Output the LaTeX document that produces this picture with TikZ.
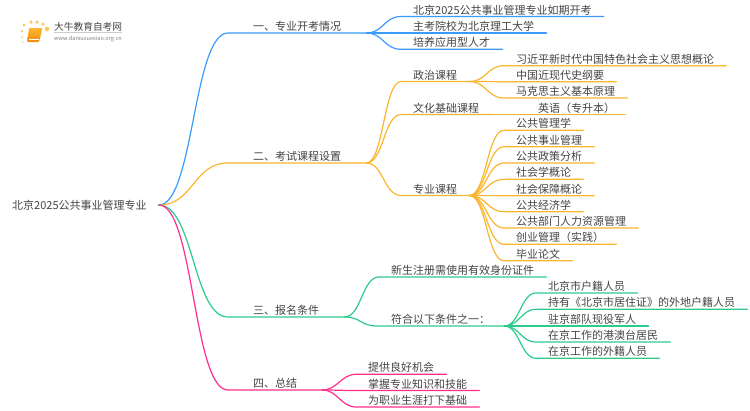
\documentclass[tikz,border=0pt]{standalone}
\usepackage{fontspec}
\setmainfont{Noto Sans CJK SC}
\usepackage{tikz}
\usetikzlibrary{positioning}

\definecolor{bluebr}{HTML}{3A9BFC}
\definecolor{orangebr}{HTML}{FBB52E}
\definecolor{greenbr}{HTML}{2CCB8C}
\definecolor{pinkbr}{HTML}{FF2E8E}
\definecolor{textcol}{HTML}{444444}
\definecolor{bookcol}{HTML}{F08A10}
\definecolor{booktop}{HTML}{FDB732}
\definecolor{dotcol}{HTML}{FBC65A}

\tikzset{
    label text/.style={font=\fontsize{11}{13}\selectfont, text=textcol, inner ysep=0pt, text height=10.2pt, text depth=2.2pt, anchor=south west},
    topic/.style={label text, inner xsep=25pt},
    leaf/.style={label text, inner xsep=12pt},
    branch/.style={line width=1.2pt, line cap=round},
    logodot/.style={circle, fill=dotcol, inner sep=0pt, minimum size=#1}
}

\begin{document}
\begin{tikzpicture}[x=1pt,y=-1pt]
    \useasboundingbox (0,0) rectangle (750,410);

    % logo
    \foreach \px/\py/\sz in {24/25/3pt, 31/22/3.5pt, 37/22/3.5pt, 43/24/3.5pt, 47/29/4.5pt, 22/31/2.5pt, 22/37/2pt, 23/42/1.5pt}
        \node[logodot=\sz] at (\px,\py) {};
    \shade[top color=booktop, bottom color=bookcol, rounded corners=1pt] (29,28) -- (42.5,28) -- (39,42) -- (27,42) -- cycle;
    \draw[white, line width=0.6pt] (28.5,39.5) -- (38.5,39.5);
    \node[font=\fontsize{9.7}{11}\selectfont, text=textcol, inner sep=0pt, anchor=west] (logoname) at (54,27) {大牛教育自考网};
    \node[font=\fontsize{5.6}{7}\selectfont, text=gray, inner sep=0pt, anchor=west] (logourl) at (54,38.5) {www.daniuxuexiao.org.cn};
    \draw[gray!40, line width=0.5pt] (logoname.south west) ++(0,1) -- ++(68,0);

    % root
    \node[label text, inner xsep=12pt, anchor=west] (root) at (0,205) {北京2025公共事业管理专业};

    % first branch
    \node[topic] (kaikao) at (228,33) {一、专业开考情况};
    \node[leaf] (ruqi) at (401,16.5) {北京2025公共事业管理专业如期开考};
    \node[leaf] (yuanxiao) at (401,33) {主考院校为北京理工大学};
    \node[leaf] (rencai) at (401,49.3) {培养应用型人才};

    % second branch
    \node[topic] (kecheng) at (228,163) {二、考试课程设置};
    \node[leaf] (zhengzhi) at (401,81.5) {政治课程};
    \node[leaf] (wenhua) at (401,114.5) {文化基础课程};
    \node[leaf] (zhuanye) at (401,195.5) {专业课程};
    \node[leaf] (sixiang) at (504,65.7) {习近平新时代中国特色社会主义思想概论};
    \node[leaf] (jindai) at (504,81.7) {中国近现代史纲要};
    \node[leaf] (makesi) at (504,98) {马克思主义基本原理};
    \node[leaf, inner xsep=10pt] (yingyu) at (528,114.5) {英语（专升本）};
    \node[leaf] (guanli) at (504,130.3) {公共管理学};
    \node[leaf] (shiye) at (504,146.7) {公共事业管理};
    \node[leaf] (zhengce) at (504,163) {公共政策分析};
    \node[leaf] (shehui) at (504,179.3) {社会学概论};
    \node[leaf] (baozhang) at (504,195.7) {社会保障概论};
    \node[leaf] (jingji) at (504,211.7) {公共经济学};
    \node[leaf] (renli) at (504,228) {公共部门人力资源管理};
    \node[leaf] (chuangye) at (504,244.3) {创业管理（实践）};
    \node[leaf] (lunwen) at (504,260.7) {毕业论文};

    % third branch
    \node[topic] (baoming) at (228,317) {三、报名条件};
    \node[leaf] (zhuce) at (379,277) {新生注册需使用有效身份证件};
    \node[leaf, inner xsep=14pt] (fuhe) at (377,326) {符合以下条件之一：};
    \node[leaf] (huji) at (536,293) {北京市户籍人员};
    \node[leaf] (juzhu) at (536,309.3) {持有《北京市居住证》的外地户籍人员};
    \node[leaf] (budui) at (536,326) {驻京部队现役军人};
    \node[leaf] (gangao) at (536,342) {在京工作的港澳台居民};
    \node[leaf] (waiji) at (536,358.3) {在京工作的外籍人员};

    % fourth branch
    \node[topic] (zongjie) at (228,390) {四、总结};
    \node[leaf] (jihui) at (356,374.3) {提供良好机会};
    \node[leaf] (zhishi) at (356,390.5) {掌握专业知识和技能};
    \node[leaf] (jichu) at (356,407) {为职业生涯打下基础};

    % connectors
    \draw[branch, bluebr] (root.east) .. controls +(35,0) and +(-35,0) .. (kaikao.south west) -- (kaikao.south east);
    \draw[branch, orangebr] (root.east) .. controls +(35,0) and +(-35,0) .. (kecheng.south west) -- (kecheng.south east);
    \draw[branch, greenbr] (root.east) .. controls +(35,0) and +(-35,0) .. (baoming.south west) -- (baoming.south east);
    \draw[branch, pinkbr] (root.east) .. controls +(35,0) and +(-35,0) .. (zongjie.south west) -- (zongjie.south east);

    \foreach \n in {ruqi,yuanxiao,rencai}
        \draw[branch, bluebr] (kaikao.south east) .. controls +(17,0) and +(-17,0) .. (\n.south west) -- (\n.south east);
    \foreach \n in {zhengzhi,wenhua,zhuanye}
        \draw[branch, orangebr] (kecheng.south east) .. controls +(17,0) and +(-17,0) .. (\n.south west) -- (\n.south east);
    \foreach \n in {sixiang,jindai,makesi}
        \draw[branch, orangebr] (zhengzhi.south east) .. controls +(17,0) and +(-17,0) .. (\n.south west) -- (\n.south east);
    \draw[branch, orangebr] (wenhua.south east) -- (yingyu.south west) -- (yingyu.south east);
    \foreach \n in {guanli,shiye,zhengce,shehui,baozhang,jingji,renli,chuangye,lunwen}
        \draw[branch, orangebr] (zhuanye.south east) .. controls +(17,0) and +(-17,0) .. (\n.south west) -- (\n.south east);
    \foreach \n in {zhuce,fuhe}
        \draw[branch, greenbr] (baoming.south east) .. controls +(17,0) and +(-17,0) .. (\n.south west) -- (\n.south east);
    \foreach \n in {huji,juzhu,budui,gangao,waiji}
        \draw[branch, greenbr] (fuhe.south east) .. controls +(15,0) and +(-15,0) .. (\n.south west) -- (\n.south east);
    \foreach \n in {jihui,zhishi,jichu}
        \draw[branch, pinkbr] (zongjie.south east) .. controls +(15,0) and +(-15,0) .. (\n.south west) -- (\n.south east);
\end{tikzpicture}
\end{document}
